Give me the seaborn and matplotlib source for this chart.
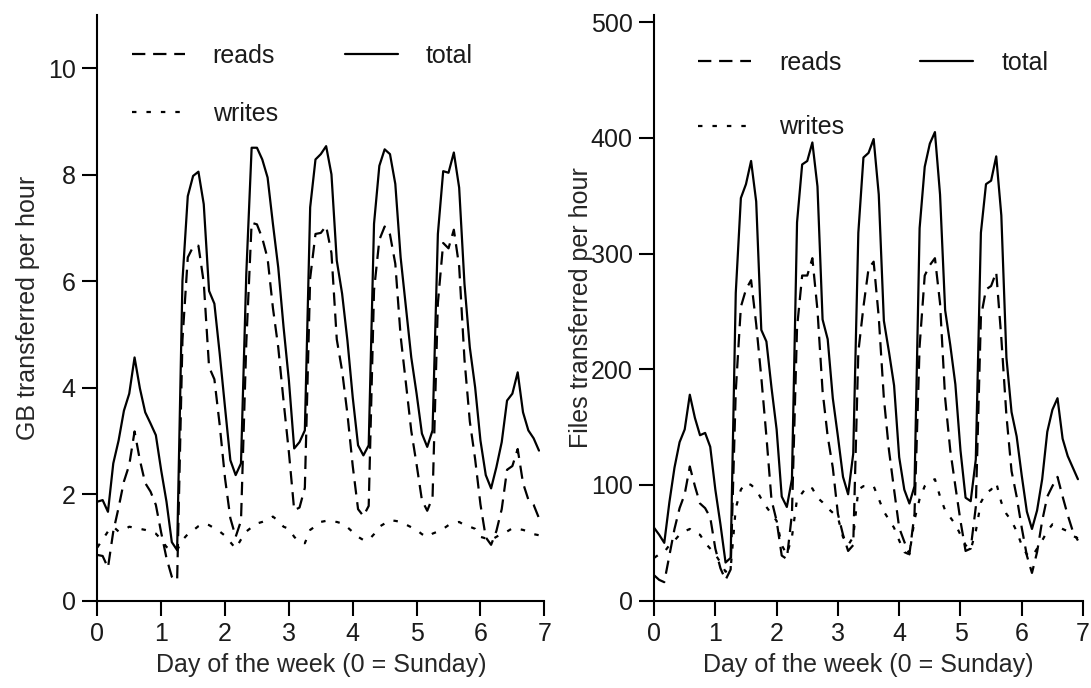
import numpy as np
import pandas as pd
import matplotlib
matplotlib.use('Agg')
import matplotlib.pyplot as plt
from matplotlib.lines import Line2D
import seaborn as sns

# one sample every 2 hours over the week
day = np.arange(84) / 12

gb_reads = [0.86, 0.84, 0.62, 1.30, 1.75, 2.24, 2.55, 3.18, 2.64, 2.21, 2.05, 1.80,
            1.28, 0.80, 0.45, 0.38, 4.90, 6.45, 6.65, 6.67, 5.98, 4.39, 4.16, 3.30,
            2.30, 1.55, 1.20, 1.50, 4.85, 7.10, 7.07, 6.81, 6.43, 5.50, 4.76, 3.75,
            2.79, 1.70, 1.75, 2.12, 6.06, 6.89, 6.91, 7.04, 6.53, 4.91, 4.32, 3.51,
            2.53, 1.72, 1.59, 1.78, 5.83, 6.78, 7.03, 6.88, 6.33, 4.97, 4.08, 3.19,
            2.56, 1.89, 1.69, 1.94, 5.59, 6.72, 6.62, 6.97, 6.28, 4.53, 3.37, 2.66,
            1.81, 1.19, 1.05, 1.31, 1.72, 2.46, 2.53, 2.85, 2.21, 1.90, 1.80, 1.55]
gb_writes = [1.00, 1.15, 1.30, 1.39, 1.30, 1.33, 1.39, 1.37, 1.35, 1.33, 1.30, 1.26,
             1.15, 1.01, 0.95, 0.95, 1.14, 1.25, 1.32, 1.40, 1.45, 1.42, 1.36, 1.30,
             1.22, 1.10, 0.98, 1.15, 1.30, 1.38, 1.45, 1.48, 1.52, 1.58, 1.50, 1.39,
             1.35, 1.20, 1.10, 1.08, 1.33, 1.40, 1.48, 1.50, 1.48, 1.48, 1.45, 1.38,
             1.29, 1.20, 1.14, 1.14, 1.25, 1.39, 1.45, 1.51, 1.50, 1.48, 1.43, 1.38,
             1.33, 1.25, 1.20, 1.26, 1.30, 1.35, 1.42, 1.45, 1.48, 1.42, 1.39, 1.35,
             1.20, 1.17, 1.14, 1.20, 1.26, 1.30, 1.36, 1.35, 1.33, 1.30, 1.25, 1.23]
gb_total = [1.86, 1.89, 1.67, 2.58, 3.01, 3.57, 3.89, 4.57, 3.99, 3.54, 3.33, 3.11,
            2.45, 1.86, 1.10, 0.95, 6.01, 7.60, 7.98, 8.06, 7.45, 5.82, 5.58, 4.64,
            3.63, 2.64, 2.36, 2.58, 6.15, 8.51, 8.51, 8.29, 7.95, 7.08, 6.26, 5.14,
            4.14, 2.86, 2.98, 3.20, 7.39, 8.29, 8.39, 8.54, 8.01, 6.39, 5.77, 4.89,
            3.82, 2.92, 2.73, 2.92, 7.08, 8.17, 8.48, 8.39, 7.83, 6.45, 5.51, 4.57,
            3.89, 3.14, 2.89, 3.20, 6.89, 8.07, 8.04, 8.42, 7.76, 5.95, 4.76, 4.01,
            3.01, 2.36, 2.11, 2.51, 2.98, 3.76, 3.89, 4.29, 3.54, 3.20, 3.05, 2.82]

files_reads = [22, 18, 16, 39, 62, 80, 92, 116, 99, 84, 80, 72,
               45, 28, 18, 27, 181, 254, 269, 277, 239, 193, 142, 87,
               69, 39, 36, 75, 236, 281, 281, 296, 251, 181, 142, 115,
               75, 57, 43, 48, 215, 254, 287, 293, 245, 175, 130, 96,
               63, 51, 40, 75, 220, 281, 290, 296, 257, 175, 130, 99,
               69, 43, 45, 81, 245, 269, 272, 284, 227, 160, 112, 90,
               63, 39, 24, 42, 69, 90, 99, 107, 90, 74, 60, 52]
files_writes = [37, 40, 42, 48, 52, 57, 60, 62, 58, 57, 50, 45,
                40, 33, 25, 28, 80, 96, 102, 100, 96, 88, 81, 75,
                69, 48, 40, 55, 88, 93, 99, 97, 89, 85, 80, 76,
                72, 55, 48, 55, 96, 99, 99, 99, 88, 77, 70, 63,
                52, 42, 40, 70, 88, 99, 103, 105, 90, 78, 72, 66,
                57, 48, 44, 60, 85, 93, 96, 102, 85, 75, 69, 60,
                48, 40, 38, 45, 52, 60, 66, 64, 62, 60, 56, 54]
files_total = [63, 57, 50, 85, 115, 137, 148, 178, 158, 143, 145, 133,
               96, 66, 33, 37, 266, 348, 360, 380, 345, 234, 224, 184,
               148, 90, 81, 105, 327, 377, 380, 396, 358, 243, 226, 175,
               142, 107, 92, 127, 318, 383, 387, 399, 351, 242, 215, 186,
               124, 96, 84, 99, 322, 375, 395, 405, 351, 251, 221, 187,
               130, 89, 86, 122, 318, 360, 363, 384, 333, 210, 163, 142,
               108, 77, 62, 78, 105, 146, 165, 175, 140, 125, 115, 105]

series_names = ['reads', 'writes', 'total']
dash_styles = {'reads': (6, 3.5), 'writes': (2, 4.5), 'total': ''}
FS = 18

sns.set_style('ticks')
plt.rcParams['font.family'] = ['Liberation Sans', 'DejaVu Sans']
plt.rcParams.update({
    'font.size': FS,
    'axes.linewidth': 1.5,
    'xtick.major.width': 1.5,
    'ytick.major.width': 1.5,
    'xtick.major.size': 10.5,
    'ytick.major.size': 10.5,
    'xtick.major.pad': 5,
    'ytick.major.pad': 5,
    'xtick.color': 'k',
    'ytick.color': 'k',
    'axes.edgecolor': 'k',
    'text.color': '#1a1a1a',
    'xtick.labelcolor': '#1a1a1a',
    'ytick.labelcolor': '#1a1a1a',
})


def draw_panel(ax, reads, writes, total, ylabel, ylim, yticks, ypad, leg_anchor, colspace, labspace):
    df = pd.DataFrame({
        'day': np.tile(day, 3),
        'value': list(reads) + list(writes) + list(total),
        'series': np.repeat(series_names, len(day)),
    })
    sns.lineplot(data=df, x='day', y='value', hue='series', style='series',
                 palette={s: 'k' for s in series_names}, dashes=dash_styles,
                 estimator=None, sort=False, linewidth=1.6, legend=False, ax=ax)
    ax.set_xlim(0, 7)
    ax.set_ylim(*ylim)
    ax.set_xticks(range(8))
    ax.set_yticks(yticks)
    ax.tick_params(labelsize=FS)
    ax.set_xlabel('Day of the week (0 = Sunday)', fontsize=FS, labelpad=5)
    ax.set_ylabel(ylabel, fontsize=FS, labelpad=ypad)
    sns.despine(ax=ax)

    handles = [Line2D([], [], color='k', lw=1.6, dashes=dash_styles['reads']),
               Line2D([], [], color='k', lw=1.6, dashes=dash_styles['writes']),
               Line2D([], [], color='k', lw=1.6, linestyle='-')]
    ax.legend(handles, series_names, ncol=2, loc='upper left', bbox_to_anchor=leg_anchor,
              frameon=False, borderpad=0, borderaxespad=0, handlelength=2.12,
              handletextpad=1.12, columnspacing=colspace, labelspacing=labspace, fontsize=FS)


fig = plt.figure(figsize=(10.91, 6.88), dpi=100)
ax1 = fig.add_axes([0.0892, 0.1269, 0.4097, 0.851])
ax2 = fig.add_axes([0.5995, 0.1269, 0.3932, 0.851])

draw_panel(ax1, gb_reads, gb_writes, gb_total, 'GB transferred per hour',
           (0, 11), [0, 2, 4, 6, 8, 10], 6, (0.077, 0.951), 2.68, 1.36)
draw_panel(ax2, files_reads, files_writes, files_total, 'Files transferred per hour',
           (0, 506), [0, 100, 200, 300, 400, 500], -2, (0.1026, 0.939), 3.04, 1.62)

fig.savefig('out.png', dpi=100)
